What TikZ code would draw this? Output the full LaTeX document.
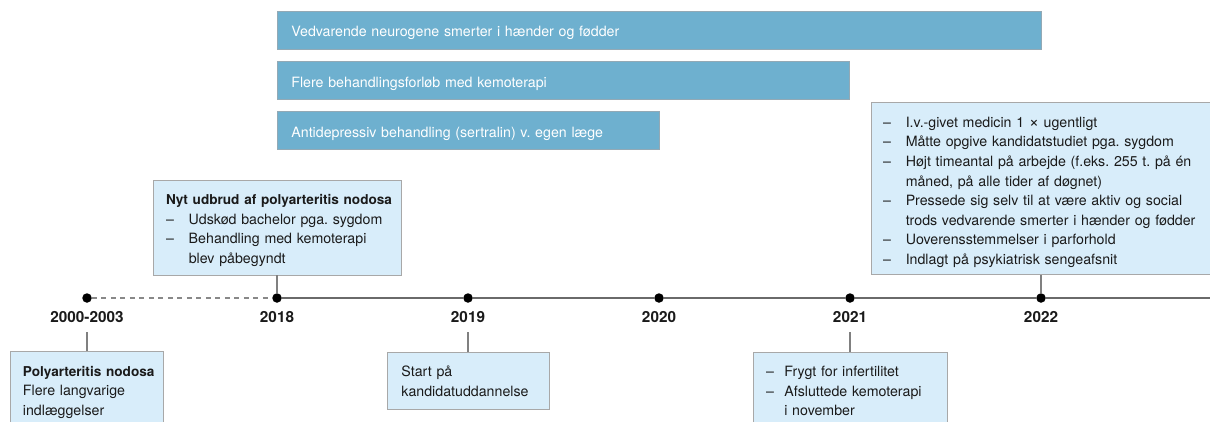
\documentclass[tikz,border=0pt]{standalone}
\usepackage{fontspec}
\setmainfont{TeX Gyre Heros}
\frenchspacing

% text styles
\newcommand\tlbody{\fontsize{14.2}{19.6}\selectfont}
\newcommand\tlhead{\fontsize{13.6}{19.6}\selectfont\bfseries}
\newcommand\tlyear{\fontsize{15.3}{17}\selectfont\bfseries}
\newcommand\tlstrut{\rule{0pt}{13pt}}
% list dash followed by a fixed indent
\newcommand\tldash[1]{\makebox[#1][l]{–}}

\definecolor{barfill}{HTML}{6EB0CF}
\definecolor{barline}{HTML}{93A9B5}
\definecolor{boxfill}{HTML}{D8EDFA}
\definecolor{boxline}{HTML}{A8A8A8}
\definecolor{axis}{HTML}{6A6A6A}
\definecolor{ink}{HTML}{1A1A1A}

\begin{document}
\begin{tikzpicture}[x=1pt,y=-1pt,
  bar/.style={draw=barline, line width=0.8pt, fill=barfill, anchor=west,
    minimum height=38pt, inner ysep=0pt, inner xsep=14pt, align=left,
    text=white, font=\tlbody, text height=13.6pt, text depth=0pt},
  eventbox/.style={draw=boxline, line width=0.9pt, fill=boxfill, anchor=north,
    inner sep=0pt},
  txt/.style={anchor=north west, inner sep=0pt, align=left, text width=330pt,
    text=ink, font=\tlbody},
  dot/.style={circle, fill=black, inner sep=0pt, minimum size=9.5pt},
  year/.style={anchor=base, font=\tlyear, text=ink, inner xsep=0pt,
    inner ysep=9.3pt, text depth=0pt},
  axisline/.style={draw=axis, line width=1.3pt},
  link/.style={draw=axis!85, line width=1.1pt}]

\useasboundingbox (0,0) rectangle (1210,421);
\fill[white] (0,0) rectangle (1210,421);
\clip (0,0) rectangle (1210,421);

% time axis points
\node[dot] (d2000) at (87,298) {};
\node[dot] (d2018) at (277,298) {};
\node[dot] (d2019) at (468,298) {};
\node[dot] (d2020) at (659,298) {};
\node[dot] (d2021) at (850,298) {};
\node[dot] (d2022) at (1041,298) {};
\coordinate (axisend) at (1212,298);

\draw[axisline, draw=axis!80, dash pattern=on 5pt off 4.5pt] (d2000) -- (d2018);
\draw[axisline] (d2018) -- (d2019) -- (d2020) -- (d2021) -- (d2022) -- (axisend);

% year labels
\node[year] (y2000) at (87,322.7) {2000-2003};
\node[year] (y2018) at (277,322.7) {2018};
\node[year] (y2019) at (468,322.7) {2019};
\node[year] (y2020) at (659,322.7) {2020};
\node[year] (y2021) at (850,322.7) {2021};
\node[year] (y2022) at (1041,322.7) {2022};

% long-running periods
\node[bar, text width=736pt] (p1) at (277,30) {Vedvarende neurogene smerter i hænder og fødder};
\node[bar, text width=544pt] (p2) at (277,80.5) {Flere behandlingsforløb med kemoterapi};
\node[bar, text width=354pt] (p3) at (277,130.5) {Antidepressiv behandling (sertralin) v. egen læge};

% event boxes
\node[eventbox, minimum width=248pt, minimum height=95pt] (b2018) at (277,179.5) {};
\node[eventbox, minimum width=340pt, minimum height=172pt] (b2022) at (1041,102) {};
\node[eventbox, minimum width=153pt, minimum height=95pt] (b2000) at (87,351) {};
\node[eventbox, minimum width=162pt, minimum height=57pt] (b2019) at (468,351.5) {};
\node[eventbox, minimum width=194pt, minimum height=95pt] (b2021) at (850,351.5) {};

% links between boxes and the axis
\draw[link] (b2018.south) -- (d2018);
\draw[link] (b2022.south) -- (d2022);
\draw[link] (y2000.south) -- (b2000.north);
\draw[link] (y2019.south) -- (b2019.north);
\draw[link] (y2021.south) -- (b2021.north);

% box texts
\node[txt] (t2018) at ([shift={(13.3,12)}]b2018.north west)
  {\tlstrut{\tlhead Nyt udbrud af polyarteritis nodosa}\\
   \tldash{22.7pt}Udskød bachelor pga. sygdom\\
   \tldash{22.7pt}Behandling med kemoterapi\\
   \hspace*{22.7pt}blev påbegyndt};

\node[txt] (t2022) at ([shift={(12.3,12)}]b2022.north west)
  {\tlstrut\tldash{22.7pt}I.v.-givet medicin 1 {\fontsize{17}{19.6}\selectfont ×} ugentligt\\
   \tldash{22.7pt}Måtte opgive kandidatstudiet pga. sygdom\\
   \tldash{22.7pt}Højt timeantal på arbejde (f.eks. 255 t. på én\\
   \hspace*{22.7pt}måned, på alle tider af døgnet)\\
   \tldash{22.7pt}Pressede sig selv til at være aktiv og social\\
   \hspace*{22.7pt}trods vedvarende smerter i hænder og fødder\\
   \tldash{22.7pt}Uoverensstemmelser i parforhold\\
   \tldash{22.7pt}Indlagt på psykiatrisk sengeafsnit};

\node[txt] (t2000) at ([shift={(12.7,12)}]b2000.north west)
  {\tlstrut{\tlhead Polyarteritis nodosa}\\
   Flere langvarige\\
   indlæggelser};

\node[txt] (t2019) at ([shift={(14.7,12)}]b2019.north west)
  {\tlstrut Start på\\
   kandidatuddannelse};

\node[txt] (t2021) at ([shift={(13.3,12)}]b2021.north west)
  {\tlstrut\tldash{18.3pt}Frygt for infertilitet\\
   \tldash{18.3pt}Afsluttede kemoterapi\\
   \hspace*{18.3pt}i november};

\end{tikzpicture}
\end{document}
